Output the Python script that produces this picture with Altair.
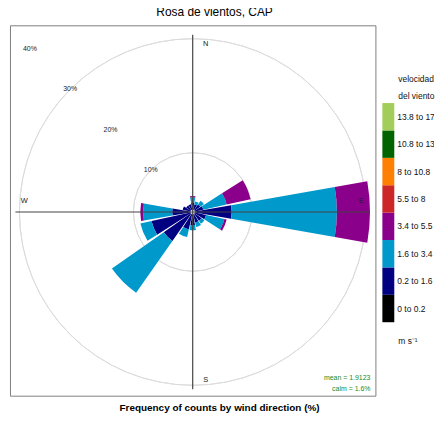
import math
import altair as alt
import pandas as pd

# ---------------- data ----------------
directions = ["N", "NNE", "NE", "ENE", "E", "ESE", "SE", "SSE",
              "S", "SSW", "SW", "WSW", "W", "WNW", "NW", "NNW"]
dir_angles = [0, 22.5, 45, 67.5, 90, 112.5, 135, 157.5,
              180, 202.5, 225, 247.5, 270, 292.5, 315, 337.5]

speed_bins = ["0 to 0.2", "0.2 to 1.6", "1.6 to 3.4", "3.4 to 5.5",
              "5.5 to 8", "8 to 10.8", "10.8 to 13.8", "13.8 to 17.1"]
bin_colors = ["#000000", "#000080", "#0099CC", "#8B008B",
              "#CD2626", "#FF7F00", "#006400", "#A2CD5A"]

# percentage of counts per direction for each speed bin
pct_0_02   = [0, 0, 0, 0, 0, 0, 0, 0, 0, 0, 0, 0, 0, 0, 0, 0]
pct_02_16  = [1.3, 1.0, 1.2, 1.5, 6.45, 2.0, 1.5, 1.5, 1.9, 2.7, 5.8, 7.0, 3.2, 1.4, 1.0, 1.0]
pct_16_34  = [0.9, 0.5, 0.8, 4.2, 18.45, 3.3, 0.6, 0.8, 0.9, 1.4, 11.1, 2.0, 5.1, 0, 0, 0]
pct_34_55  = [0.2, 0, 0, 4.3, 5.8, 0.4, 0, 0, 0, 0, 0, 0, 0.5, 0, 0, 0]
pct_55_8   = [0, 0, 0, 0, 0, 0, 0, 0, 0, 0, 0, 0, 0, 0, 0, 0]
pct_8_108  = [0, 0, 0, 0, 0, 0, 0, 0, 0, 0, 0, 0, 0, 0, 0, 0]
pct_108_138 = [0, 0, 0, 0, 0, 0, 0, 0, 0, 0, 0, 0, 0, 0, 0, 0]
pct_138_171 = [0, 0, 0, 0, 0, 0, 0, 0, 0, 0, 0, 0, 0, 0, 0, 0]
bin_series = [pct_0_02, pct_02_16, pct_16_34, pct_34_55,
              pct_55_8, pct_8_108, pct_108_138, pct_138_171]

ring_values = [10, 20, 30, 40]
ring_labels = ["10%", "20%", "30%", "40%"]
compass = ["N", "E", "S", "W"]
compass_deg = [0, 90, 180, 270]
stats_lines = ["mean = 1.9123", "calm = 1.6%"]
legend_title_lines = ["velocidad", "del viento"]
units_label = "m s\u207b\u00b9"
title_text = "Rosa de vientos, CAP"
caption_text = "Frequency of counts by wind direction (%)"

# ---------------- layout constants ----------------
W, H = 368, 373          # panel size
CX, CY = 184, 188        # polar origin inside panel
PX_PER_PCT = 5.74
OFFSET_PX = 2.3
HALF_WIDTH = 10          # wedge half width (deg)
OFF_U = OFFSET_PX / PX_PER_PCT

FONT = "Liberation Sans"

# ---------------- tables ----------------
rows = []
for i, (d, a) in enumerate(zip(directions, dir_angles)):
    cum = 0.0
    for b, series in zip(speed_bins, bin_series):
        v = series[i]
        if v > 0:
            rows.append({"dir": d, "bin": b, "t0": a - HALF_WIDTH, "t1": a + HALF_WIDTH,
                         "r0": cum, "r1": cum + v})
        cum += v
wedges = pd.DataFrame(rows)
totals = [sum(s[i] for s in bin_series) for i in range(len(directions))]
ext = max(totals) + OFF_U

rings = pd.DataFrame({"ring": ring_values, "label": ring_labels})
rings["lx"] = -(rings["ring"] + OFF_U) * math.sin(math.radians(45))
rings["ly"] = (rings["ring"] + OFF_U) * math.cos(math.radians(45))

axes_df = pd.DataFrame({"x0": [-ext, 0], "x1": [ext, 0], "y0": [0, -ext], "y1": [0, ext]})

comp = pd.DataFrame({"label": compass, "deg": compass_deg})
comp["x"] = 0.95 * ext * comp["deg"].apply(lambda d: round(math.sin(math.radians(d)), 6))
comp["y"] = 0.95 * ext * comp["deg"].apply(lambda d: round(math.cos(math.radians(d)), 6))
comp_ns = comp[comp["label"].isin(["N", "S"])]
comp_ew = comp[comp["label"].isin(["E", "W"])]

xscale = alt.Scale(domain=[-CX / PX_PER_PCT, (W - CX) / PX_PER_PCT], range=[0, W], nice=False, zero=False)
yscale = alt.Scale(domain=[-(H - CY) / PX_PER_PCT, CY / PX_PER_PCT], range=[H, 0], nice=False, zero=False)
rscale = alt.Scale(type="linear", domain=[0, 40], range=[OFFSET_PX, OFFSET_PX + 40 * PX_PER_PCT], zero=False, nice=False)
tscale = alt.Scale(domain=[0, 360], range=[0, 2 * math.pi], zero=False, nice=False)
cscale = alt.Scale(domain=speed_bins, range=bin_colors)

grid = alt.Chart(rings).mark_arc(fillOpacity=0, stroke="#DCDCDC", strokeWidth=1, clip=True).encode(
    theta=alt.value(0), theta2=alt.value(2 * math.pi),
    radius=alt.Radius("ring:Q", scale=rscale),
    x=alt.value(CX), y=alt.value(CY),
)

bars = alt.Chart(wedges).mark_arc(clip=True).encode(
    theta=alt.Theta("t0:Q", scale=tscale, stack=False),
    theta2="t1:Q",
    radius=alt.Radius("r1:Q", scale=rscale),
    radius2="r0:Q",
    color=alt.Color("bin:N", scale=cscale, legend=None),
    x=alt.value(CX), y=alt.value(CY),
)

axis_lines = alt.Chart(axes_df).mark_rule(color="#444444", strokeWidth=1.2).encode(
    x=alt.X("x0:Q", scale=xscale, axis=None), x2="x1:Q",
    y=alt.Y("y0:Q", scale=yscale, axis=None), y2="y1:Q",
)

ring_text = alt.Chart(rings).mark_text(fontSize=7, font=FONT, color="#222222").encode(
    x=alt.X("lx:Q", scale=xscale, axis=None),
    y=alt.Y("ly:Q", scale=yscale, axis=None),
    text="label:N",
)

ns_text = alt.Chart(comp_ns).mark_text(fontSize=7.5, font=FONT, color="#222222", dx=13).encode(
    x=alt.X("x:Q", scale=xscale, axis=None),
    y=alt.Y("y:Q", scale=yscale, axis=None),
    text="label:N",
)
ew_text = alt.Chart(comp_ew).mark_text(fontSize=7.5, font=FONT, color="#222222", dy=-11).encode(
    x=alt.X("x:Q", scale=xscale, axis=None),
    y=alt.Y("y:Q", scale=yscale, axis=None),
    text="label:N",
)

stats_df = pd.DataFrame({"line": stats_lines, "row": [0, 1]})
stats_text = alt.Chart(stats_df).mark_text(fontSize=7, font=FONT, color="#228B22", align="right").encode(
    x=alt.value(W - 5),
    y=alt.Y("row:Q", scale=alt.Scale(domain=[0, 1], range=[355, 366]), axis=None),
    text="line:N",
)

caption = alt.Chart(pd.DataFrame({"t": [caption_text]})).mark_text(
    fontSize=10, font=FONT, fontWeight="bold", color="#000000"
).encode(x=alt.value(211), y=alt.value(385), text="t:N")

title = alt.Chart(pd.DataFrame({"t": [title_text]})).mark_text(
    fontSize=12, font=FONT, color="#000000"
).encode(x=alt.value(206), y=alt.value(-13), text="t:N")

rose = alt.layer(grid, bars, axis_lines, ring_text, ns_text, ew_text, stats_text, caption, title).properties(
    width=W, height=H,
    view=alt.ViewBackground(stroke="#7F7F7F", strokeWidth=1),
).resolve_scale(y="independent")

# ---------------- legend panel ----------------
legend_df = pd.DataFrame({"bin": speed_bins})
band = alt.Scale(domain=list(reversed(speed_bins)), range=[78.3, 299], paddingInner=0, paddingOuter=0)
key_rects = alt.Chart(legend_df).mark_rect().encode(
    x=alt.value(0), x2=alt.value(12),
    y=alt.Y("bin:N", scale=band, axis=None),
    color=alt.Color("bin:N", scale=cscale, legend=None),
)
key_labels = alt.Chart(legend_df).mark_text(align="left", baseline="middle", fontSize=8.5, font=FONT,
                                            color="#111111", clip=True).encode(
    x=alt.value(15),
    y=alt.Y("bin:N", scale=band, axis=None),
    text="bin:N",
)
lt_df = pd.DataFrame({"line": legend_title_lines, "row": [0, 1]})
key_title = alt.Chart(lt_df).mark_text(align="left", baseline="middle", fontSize=8.5, font=FONT, color="#111111").encode(
    x=alt.value(16),
    y=alt.Y("row:Q", scale=alt.Scale(domain=[0, 1], range=[54, 71]), axis=None),
    text="line:N",
)
key_units = alt.Chart(pd.DataFrame({"u": [units_label]})).mark_text(
    align="left", baseline="middle", fontSize=8.5, font=FONT, color="#111111"
).encode(x=alt.value(16), y=alt.value(318), text="u:N")

legend_panel = alt.layer(key_rects, key_labels, key_title, key_units).properties(
    width=52, height=H,
    view=alt.ViewBackground(stroke="transparent"),
).resolve_scale(y="independent")

chart = alt.hconcat(rose, legend_panel, spacing=5).properties(
    padding={"left": 1, "top": -4, "right": 0, "bottom": -1},
).configure(background="white")

chart.save("out.html", embed_options={"renderer": "svg", "actions": False})
